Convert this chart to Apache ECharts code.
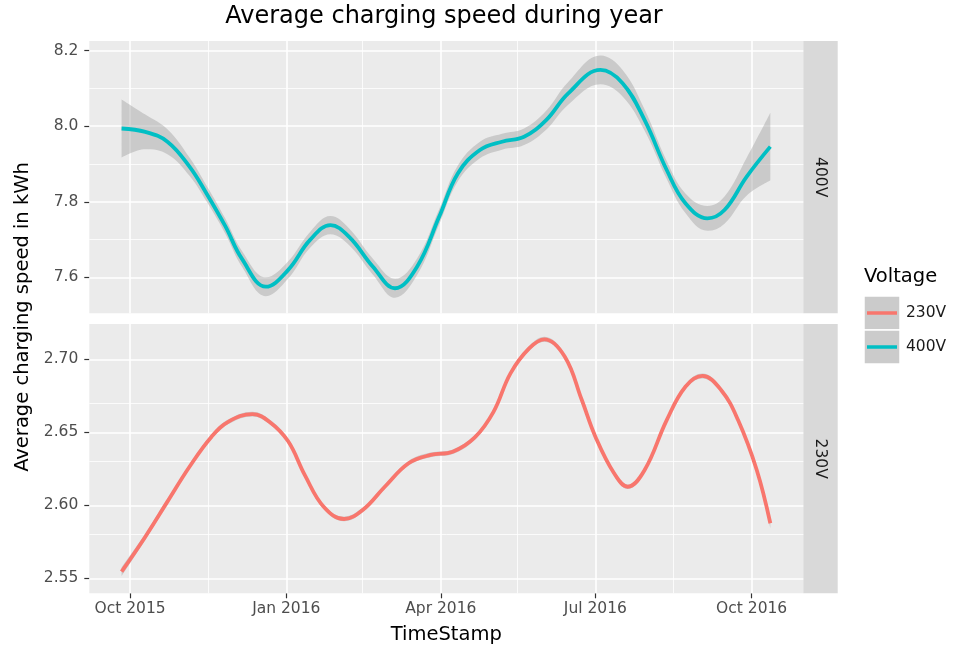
<!DOCTYPE html>
<html>
<head>
<meta charset="utf-8">
<script src="https://cdn.jsdelivr.net/npm/echarts@6/dist/echarts.min.js"></script>
<style>
  html, body { margin: 0; padding: 0; background: #ffffff; }
  #chart { width: 955px; height: 647px; }
</style>
</head>
<body>
<div id="chart"></div>
<script>
// Smoothed average charging speed (kWh) per voltage level, with CI half-widths
const dates400 = ['2015-09-26','2015-10-10','2015-10-23','2015-11-05','2015-11-15','2015-11-26','2015-12-06','2015-12-20',
  '2016-01-02','2016-01-15','2016-01-27','2016-02-07','2016-02-21','2016-03-05','2016-03-18','2016-03-31',
  '2016-04-11','2016-04-24','2016-05-07','2016-05-20','2016-06-02','2016-06-15','2016-07-04','2016-07-17',
  '2016-07-30','2016-08-12','2016-08-23','2016-09-05','2016-09-15','2016-09-28','2016-10-12'];
const speed400 = [7.994, 7.985, 7.959, 7.893, 7.822, 7.736, 7.648, 7.575,
  7.619, 7.699, 7.738, 7.707, 7.628, 7.571, 7.628, 7.760,
  7.875, 7.937, 7.959, 7.972, 8.016, 8.087, 8.149, 8.114,
  8.016, 7.884, 7.796, 7.756, 7.778, 7.866, 7.946];
const se400 = [0.077, 0.046, 0.033, 0.024, 0.021, 0.020, 0.021, 0.025,
  0.023, 0.021, 0.024, 0.022, 0.021, 0.025, 0.022, 0.020,
  0.021, 0.022, 0.021, 0.022, 0.025, 0.030, 0.038, 0.035,
  0.028, 0.024, 0.026, 0.033, 0.036, 0.050, 0.090];

const dates230 = ['2015-09-26','2015-10-10','2015-10-23','2015-11-05','2015-11-18','2015-11-28','2015-12-12','2015-12-22',
  '2016-01-02','2016-01-12','2016-01-23','2016-02-04','2016-02-15','2016-02-28','2016-03-13','2016-03-26',
  '2016-04-08','2016-04-21','2016-05-02','2016-05-12','2016-05-23','2016-06-01','2016-06-13','2016-06-23',
  '2016-07-01','2016-07-12','2016-07-20','2016-07-30','2016-08-12','2016-08-23','2016-09-02','2016-09-13',
  '2016-09-23','2016-10-04','2016-10-12'];
const speed230 = [2.5545, 2.5785, 2.6025, 2.6264, 2.6470, 2.6573, 2.6625, 2.6573,
  2.6440, 2.6205, 2.5990, 2.5906, 2.5968, 2.6127, 2.6288, 2.6345,
  2.6367, 2.6465, 2.6640, 2.6904, 2.7075, 2.7137, 2.7018, 2.6721,
  2.6470, 2.6219, 2.6127, 2.6242, 2.6584, 2.6812, 2.6886, 2.6790,
  2.6584, 2.6242, 2.5877];
const se230 = [0.0030, 0.0022, 0.0018, 0.0016, 0.0016, 0.0016, 0.0016, 0.0016,
  0.0016, 0.0016, 0.0016, 0.0016, 0.0016, 0.0016, 0.0016, 0.0016,
  0.0016, 0.0016, 0.0016, 0.0016, 0.0016, 0.0017, 0.0016, 0.0016,
  0.0016, 0.0016, 0.0016, 0.0016, 0.0016, 0.0016, 0.0017, 0.0017,
  0.0018, 0.0022, 0.0032];

// Axis breaks
const xTickDates = ['2015-10-01','2016-01-01','2016-04-01','2016-07-01','2016-10-01'];
const xTickLabels = ['Oct 2015','Jan 2016','Apr 2016','Jul 2016','Oct 2016'];
const xMinorDates = ['2015-11-16','2016-02-15','2016-05-16','2016-08-16'];
const yTicks400 = [7.6, 7.8, 8.0, 8.2];
const yMinor400 = [7.7, 7.9, 8.1];
const yTicks230 = [2.55, 2.60, 2.65, 2.70];
const yMinor230 = [2.575, 2.625, 2.675];

const voltages = ['230V', '400V'];
const colors = { '230V': '#F8766D', '400V': '#00BFC4' };

// dates are placed on a numeric (millisecond) axis
const ts = d => Date.parse(d + 'T00:00:00Z');
const xMin = ts('2015-09-07');
const xMax = ts('2016-10-31') + 10 * 3600 * 1000;
const xTickTs = xTickDates.map(ts);

const FONT = 'DejaVu Sans';
const PANEL_LEFT = 89.3, PANEL_W = 714;
const panels = [
  { top: 41, height: 272.3 },
  { top: 324, height: 269.3 }
];

function gridLines(yMajor, yMinor) {
  const major = { color: '#ffffff', width: 1.6, type: 'solid' };
  const minor = { color: '#ffffff', width: 0.8, type: 'solid' };
  const data = [];
  yMinor.forEach(v => data.push({ yAxis: v, lineStyle: minor }));
  xMinorDates.forEach(d => data.push({ xAxis: ts(d), lineStyle: minor }));
  yMajor.forEach(v => data.push({ yAxis: v, lineStyle: major }));
  xTickDates.forEach(d => data.push({ xAxis: ts(d), lineStyle: major }));
  return {
    silent: true, z: 1, symbol: ['none', 'none'],
    label: { show: false }, emphasis: { disabled: true },
    data: data
  };
}

// rows are [value, timestamp] so the value column is the one that stacks
function bandSeries(idx, dates, vals, se, yMajor, yMinor, color, name) {
  const lower = dates.map((d, i) => [vals[i] - se[i], ts(d)]);
  const width = dates.map((d, i) => [2 * se[i], ts(d)]);
  const line = dates.map((d, i) => [vals[i], ts(d)]);
  const enc = { x: 1, y: 0 };
  return [
    {
      type: 'line', xAxisIndex: idx, yAxisIndex: idx, stack: 'ci' + idx, encode: enc,
      data: lower, smooth: 0.4, symbol: 'none', silent: true, z: 2,
      lineStyle: { width: 0, opacity: 0 },
      markLine: gridLines(yMajor, yMinor)
    },
    {
      type: 'line', xAxisIndex: idx, yAxisIndex: idx, stack: 'ci' + idx, encode: enc,
      data: width, smooth: 0.4, symbol: 'none', silent: true, z: 3,
      lineStyle: { width: 0, opacity: 0 },
      areaStyle: { color: 'rgba(153,153,153,0.4)', opacity: 1 }
    },
    {
      name: name, type: 'line', xAxisIndex: idx, yAxisIndex: idx, encode: enc,
      data: line, smooth: 0.4, symbol: 'none', z: 4,
      lineStyle: { color: color, width: 3.8 }
    }
  ];
}

function xAxisDef(idx, showLabels) {
  return {
    type: 'value', gridIndex: idx, min: xMin, max: xMax, scale: true,
    axisLine: { show: false },
    splitLine: { show: false },
    axisTick: { show: showLabels, customValues: xTickTs, length: 5, lineStyle: { color: '#333333', width: 1.2 } },
    axisLabel: {
      show: showLabels, customValues: xTickTs, margin: 8,
      color: '#4D4D4D', fontFamily: FONT, fontSize: 15.5,
      formatter: v => { const i = xTickTs.indexOf(v); return i >= 0 ? xTickLabels[i] : ''; }
    },
    name: showLabels ? 'TimeStamp' : '',
    nameLocation: 'middle', nameGap: 32,
    nameTextStyle: { color: '#000000', fontFamily: FONT, fontSize: 19.5 }
  };
}

function yAxisDef(idx, min, max, ticks, digits) {
  return {
    type: 'value', gridIndex: idx, min: min, max: max, scale: true,
    axisLine: { show: false },
    splitLine: { show: false },
    axisTick: { show: true, customValues: ticks, length: 5, lineStyle: { color: '#333333', width: 1.2 } },
    axisLabel: {
      customValues: ticks, margin: 11,
      color: '#4D4D4D', fontFamily: FONT, fontSize: 15.5,
      formatter: v => v.toFixed(digits)
    }
  };
}

const stripX = PANEL_LEFT + PANEL_W;
const stripW = 34.4;
const graphics = [];
// plot title
graphics.push({ type: 'text', x: 444, y: 17,
  style: { text: 'Average charging speed during year', fill: '#000000', font: '24px "' + FONT + '"', align: 'center', verticalAlign: 'middle' }, silent: true });
// facet strips
['400V', '230V'].forEach((lab, i) => {
  const p = panels[i];
  graphics.push({ type: 'rect', shape: { x: stripX, y: p.top, width: stripW, height: p.height },
    style: { fill: '#D9D9D9' }, silent: true });
  graphics.push({ type: 'text', x: stripX + stripW / 2, y: p.top + p.height / 2, rotation: -Math.PI / 2,
    style: { text: lab, fill: '#1A1A1A', font: '15.5px "' + FONT + '"', align: 'center', verticalAlign: 'middle' }, silent: true });
});
// shared y-axis title
graphics.push({ type: 'text', x: 23, y: 317, rotation: Math.PI / 2,
  style: { text: 'Average charging speed in kWh', fill: '#000000', font: '19.5px "' + FONT + '"', align: 'center', verticalAlign: 'middle' }, silent: true });
// legend
graphics.push({ type: 'text', x: 864, y: 277,
  style: { text: 'Voltage', fill: '#000000', font: '19.5px "' + FONT + '"', align: 'left', verticalAlign: 'middle' }, silent: true });
voltages.forEach((v, i) => {
  const y0 = 296 + i * 34;
  graphics.push({ type: 'rect', shape: { x: 864, y: y0, width: 36, height: 34 },
    style: { fill: '#CBCBCB', stroke: '#ffffff', lineWidth: 1.5 }, silent: true });
  graphics.push({ type: 'line', shape: { x1: 867, y1: y0 + 17, x2: 897, y2: y0 + 17 },
    style: { stroke: colors[v], lineWidth: 3.5 }, silent: true });
  graphics.push({ type: 'text', x: 906, y: y0 + 17,
    style: { text: v, fill: '#1A1A1A', font: '15.5px "' + FONT + '"', align: 'left', verticalAlign: 'middle' }, silent: true });
});

const option = {
  animation: false,
  backgroundColor: '#ffffff',
  grid: panels.map(p => ({
    left: PANEL_LEFT, top: p.top, width: PANEL_W, height: p.height,
    show: true, backgroundColor: '#EBEBEB', borderWidth: 0, containLabel: false
  })),
  xAxis: [xAxisDef(0, false), xAxisDef(1, true)],
  yAxis: [
    yAxisDef(0, 7.5046, 8.2257, yTicks400, 1),
    yAxisDef(1, 2.5397, 2.7242, yTicks230, 2)
  ],
  series: [
    ...bandSeries(0, dates400, speed400, se400, yTicks400, yMinor400, colors['400V'], '400V'),
    ...bandSeries(1, dates230, speed230, se230, yTicks230, yMinor230, colors['230V'], '230V')
  ],
  graphic: graphics
};

const chart = echarts.init(document.getElementById('chart'), null, { renderer: 'canvas' });
chart.setOption(option);
</script>
</body>
</html>
